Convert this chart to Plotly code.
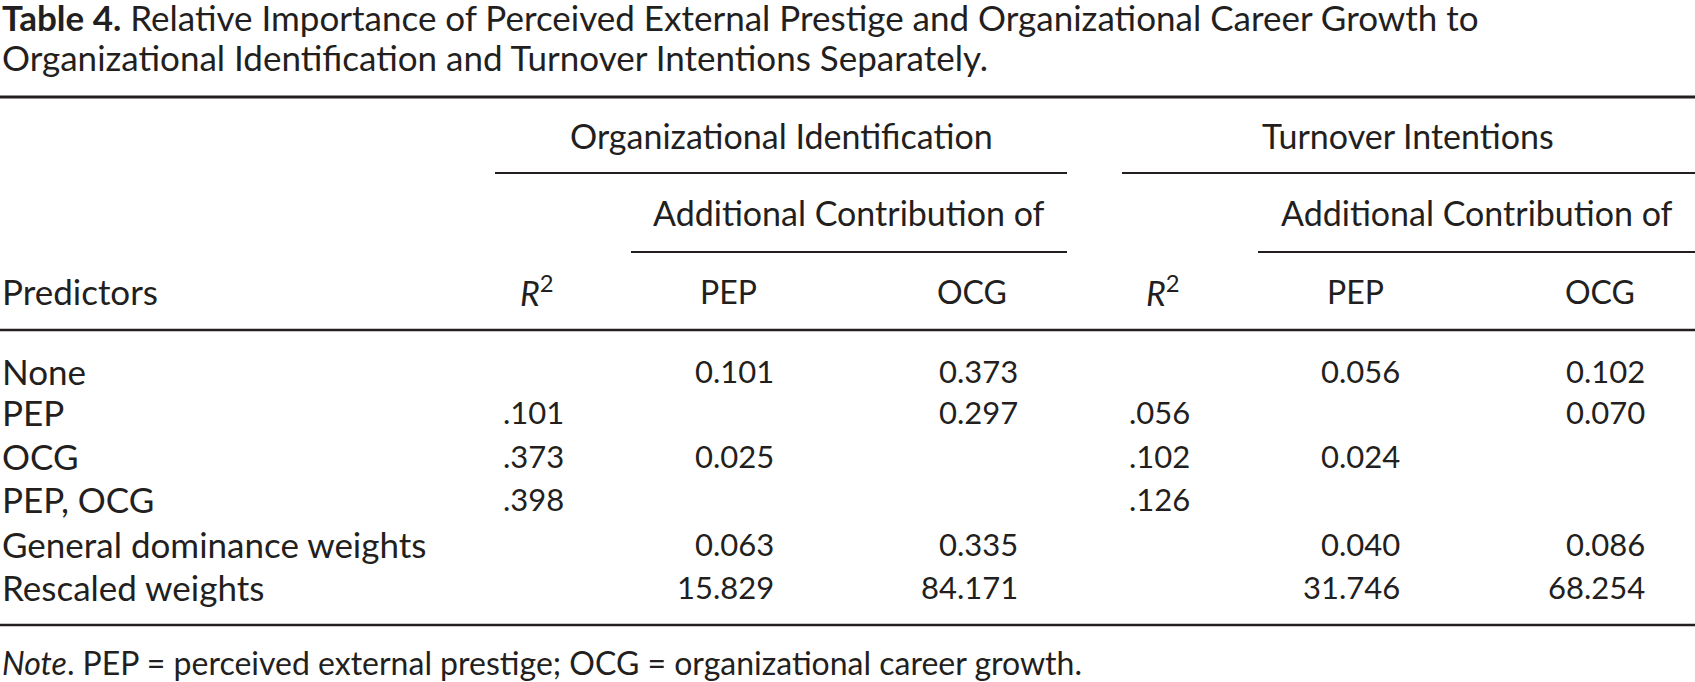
import plotly.graph_objects as go

# ---- data ----
predictors = ["None", "PEP", "OCG", "PEP, OCG", "General dominance weights", "Rescaled weights"]
r2_oi = ["", ".101", ".373", ".398", "", ""]
pep_oi = ["0.101", "", "0.025", "", "0.063", "15.829"]
ocg_oi = ["0.373", "0.297", "", "", "0.335", "84.171"]
r2_ti = ["", ".056", ".102", ".126", "", ""]
pep_ti = ["0.056", "", "0.024", "", "0.040", "31.746"]
ocg_ti = ["0.102", "0.070", "", "", "0.086", "68.254"]

title_bold = "Table 4."
title_line1 = " Relative Importance of Perceived External Prestige and Organizational Career Growth to"
title_line2 = "Organizational Identification and Turnover Intentions Separately."
group_labels = ["Organizational Identification", "Turnover Intentions"]
sub_label = "Additional Contribution of"
col_headers = ["Predictors", "<i>R</i><sup>2</sup>", "PEP", "OCG", "<i>R</i><sup>2</sup>", "PEP", "OCG"]
note = "<i>Note</i>. PEP = perceived external prestige; OCG = organizational career growth."

# ---- layout geometry (pixels) ----
W, H = 1695, 682
FONT = "Lato"
FT = 35      # title / row label size
FS = 34      # header size
FN = 31      # number size
FNOTE = 32   # note size
COLOR = "#231f20"

col_right = [None, 566, 776, 1020, 1192, 1402, 1647]
col_center = [None, 537, 728, 972, 1163, 1355, 1600]
row_y = [371, 412, 456, 499, 544, 587]

fig = go.Figure()
fig.add_trace(go.Scatter(x=[0, W], y=[0, H], mode="markers",
                         marker=dict(opacity=0), hoverinfo="skip", showlegend=False))

ann = []
def txt(x, y, s, anchor="left", size=FS):
    ann.append(dict(x=x, y=y, xref="x", yref="y", text=s, showarrow=False,
                    xanchor=anchor, yanchor="middle",
                    font=dict(family=FONT, size=size, color=COLOR)))

txt(0, 17, "<b>" + title_bold + "</b>" + title_line1, size=FT)
txt(0, 57, title_line2, size=FT)
txt(781, 135, group_labels[0], "center")
txt(1408, 135, group_labels[1], "center")
txt(849, 212, sub_label, "center")
txt(1477, 212, sub_label, "center")
txt(0, 291, col_headers[0], size=FT)
for i in range(1, 7):
    txt(col_center[i], 291, col_headers[i], "center", FS if i in (1, 4) else FN + 1)

cols = [r2_oi, pep_oi, ocg_oi, r2_ti, pep_ti, ocg_ti]
for r, name in enumerate(predictors):
    txt(0, row_y[r], name, size=FT)
    for c, arr in enumerate(cols):
        if arr[r]:
            txt(col_right[c + 1], row_y[r], arr[r], "right", FN)

txt(0, 662, note, size=FNOTE)

shapes = []
def rule(x0, x1, y, w=2):
    shapes.append(dict(type="line", xref="x", yref="y", x0=x0, x1=x1, y0=y, y1=y,
                       line=dict(color=COLOR, width=w)))

rule(0, W, 97, 2.8)
rule(495, 1067, 173)
rule(1122, W, 173)
rule(631, 1067, 252)
rule(1258, W, 252)
rule(0, W, 330, 2.5)
rule(0, W, 625, 2.5)

fig.update_layout(
    width=W, height=H, margin=dict(l=0, r=0, t=0, b=0),
    paper_bgcolor="white", plot_bgcolor="white",
    xaxis=dict(range=[0, W], visible=False, fixedrange=True),
    yaxis=dict(range=[H, 0], visible=False, fixedrange=True),
    annotations=ann, shapes=shapes, showlegend=False,
)
fig.write_html("out.html", config={"displayModeBar": False},
               post_script="document.body.style.margin='0';document.body.style.overflow='hidden';")
